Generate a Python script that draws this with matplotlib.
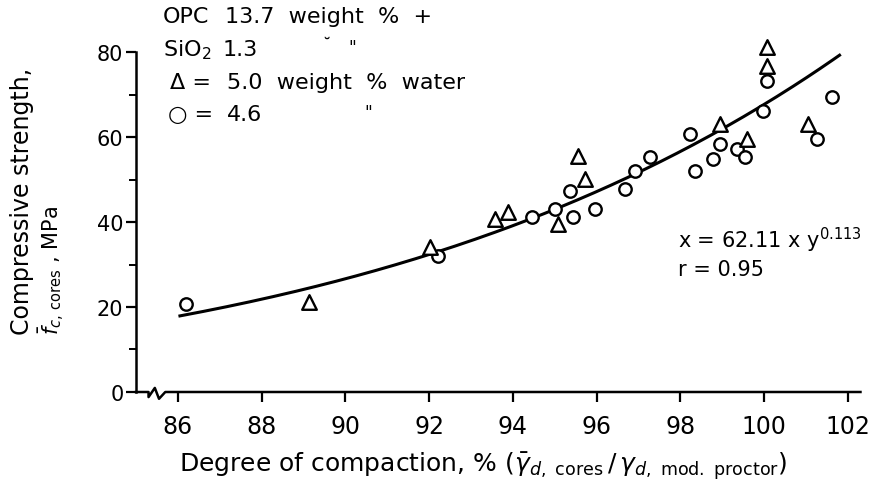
import numpy as np
import matplotlib
matplotlib.use('Agg')
import matplotlib.pyplot as plt
import matplotlib.transforms as mtransforms

plt.rcParams['font.family'] = ['DejaVu Sans']
plt.rcParams['mathtext.fontset'] = 'dejavusans'

# 삼각형 (5.0 weight % water)
tri_x = [89.13, 92.02, 93.57, 93.88, 95.07, 95.55, 95.72, 98.94, 99.59, 100.07, 100.07, 101.04]
tri_y = [21.2, 34.1, 40.7, 42.3, 39.5, 55.5, 50.1, 63.1, 59.5, 81.2, 76.7, 63.1]

# 원 (4.6 weight % water)
circ_x = [86.2, 92.2, 94.45, 95.0, 95.36, 95.43, 95.96, 96.67, 96.91, 97.27,
          98.23, 98.35, 98.78, 98.94, 99.35, 99.54, 99.97, 100.07, 101.26, 101.62]
circ_y = [20.7, 32.0, 41.2, 43.1, 47.3, 41.2, 43.1, 47.8, 52.0, 55.3,
          60.7, 52.0, 54.8, 58.4, 57.2, 55.3, 66.1, 73.2, 59.5, 69.4]

# 회귀식 x = 62.11 * y^0.113  (그림에 적힌 식)
coef_a = 62.11
coef_b = 0.113
fit_range = (86.05, 101.8)

xticks = [86, 88, 90, 92, 94, 96, 98, 100, 102]
yticks = [0, 20, 40, 60, 80]

fig = plt.figure(figsize=(8.75, 4.85), dpi=100)
ax = fig.add_axes([0.1554, 0.1897, 0.828, 0.701])

fx = np.linspace(fit_range[0], fit_range[1], 200)
fy = (fx / coef_a) ** (1 / coef_b)
ax.plot(fx, fy, color='black', lw=2.2, zorder=2)

ax.scatter(circ_x, circ_y, s=80, marker='o', facecolor='white', edgecolor='black',
           linewidth=1.7, zorder=3, clip_on=False)
ax.scatter(tri_x, tri_y, s=110, marker='^', facecolor='white', edgecolor='black',
           linewidth=1.7, zorder=3, clip_on=False)

ax.set_xlim(85.0, 102.3)
ax.set_ylim(0, 80)
ax.set_xticks(xticks)
ax.set_yticks(yticks)
ax.set_yticks([10, 30, 50, 70], minor=True)
ax.tick_params(axis='x', labelsize=17, length=7, width=1.6, direction='out', pad=9)
ax.tick_params(axis='y', labelsize=15, length=7, width=1.6, direction='out', pad=2)
ax.tick_params(axis='y', which='minor', length=5, width=1.4)

for s in ['top', 'right', 'bottom']:
    ax.spines[s].set_visible(False)
ax.spines['left'].set_linewidth(1.8)

# x축 끊김 표시
trans = mtransforms.blended_transform_factory(ax.transData, ax.transAxes)
bx = [85.0, 85.3, 85.3, 85.45, 85.55, 85.7, 102.3]
by = [0.0, 0.0, -0.015, 0.012, -0.02, 0.0, 0.0]
ax.plot(bx, by, color='black', lw=1.8, transform=trans, clip_on=False, zorder=4)

# 범례 텍스트
fs = 16
def put(px, py, s, size=fs):
    fig.text(px / 875, 1 - py / 485, s, fontsize=size, va='center')

put(163, 17, 'OPC')
put(225, 17, '13.7  weight  %  +')
put(163, 50, r'SiO$_2$')
put(223, 50, '1.3')
put(322, 46, '˘', fs - 4)
put(348, 48, '"', fs - 4)
put(170, 83, 'Δ =')
put(227, 83, '5.0  weight  %  water')
put(168, 115, '○ =')
put(227, 115, '4.6')
put(364, 113, '"', fs - 4)

# 회귀식 표시
put(678, 240, r'x = 62.11 x y$^{0.113}$', 15)
put(678, 270, 'r = 0.95', 15)

# 축 제목
fig.text(22/875, 1-335/485, 'Compressive strength,', fontsize=17, rotation=90,
         ha='center', va='bottom')
fig.text(52/875, 1-335/485, r'$\bar{f}_{c,\,\mathrm{cores}}$ , MPa', fontsize=15,
         rotation=90, ha='center', va='bottom')
fig.text(483/875, 1-466/485,
         r'Degree of compaction, % ($\bar{\gamma}_{d,\ \mathrm{cores}}\,/\,\gamma_{d,\ \mathrm{mod.\ proctor}}$)',
         fontsize=18, ha='center', va='center')

fig.savefig('out.png', dpi=100)
